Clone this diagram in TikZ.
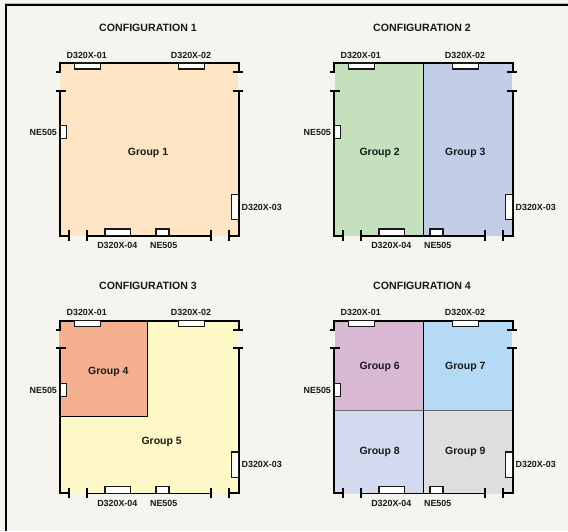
\documentclass[tikz,border=0pt]{standalone}
\usepackage{fontspec}
\setmainfont{Liberation Sans}
\definecolor{bgc}{HTML}{F5F4EF}
\definecolor{gA}{HTML}{FFE5C4}
\definecolor{gB}{HTML}{C5E0BC}
\definecolor{gC}{HTML}{C2CEE8}
\definecolor{gD}{HTML}{F5B08F}
\definecolor{gE}{HTML}{FFF9C8}
\definecolor{gF}{HTML}{D9B8D4}
\definecolor{gG}{HTML}{B4DAF6}
\definecolor{gH}{HTML}{D3D9EF}
\definecolor{gI}{HTML}{DEDEDE}
\tikzset{
  wall/.style={draw=black,line width=2.1pt,line cap=butt,line join=miter},
  pane/.style={draw=black!90,line width=1.2pt,fill=white},
  divider/.style={draw=black,line width=1.2pt},
  lab/.style={inner sep=0pt,font=\bfseries\fontsize{8.9}{10}\selectfont,text=black!90},
  titlelab/.style={inner sep=0pt,font=\bfseries\fontsize{10.6}{12}\selectfont,text=black!90},
  grouplab/.style={inner sep=0pt,yshift=-1.3pt,font=\bfseries\fontsize{10.5}{12}\selectfont,text=black!90},
}
% #1 = name prefix, #2 = configuration number
\newcommand{\planshell}[2]{%
  \draw[wall] (55.7,72.3) -- (60.3,72.3) -- (60.3,63) -- (238.7,63) -- (238.7,72.3);
  \draw[wall] (233.3,72.3) -- (243.3,72.3);
  \draw[wall] (55.7,90.7) -- (66,90.7);
  \draw[wall] (233.3,90.7) -- (243.3,90.7);
  \draw[wall] (60.3,90.7) -- (60.3,235.7) -- (68.7,235.7);
  \draw[wall] (238.7,90.7) -- (238.7,235.7) -- (229.3,235.7);
  \draw[wall] (68.7,230) -- (68.7,240.7);
  \draw[wall] (229.3,230) -- (229.3,240.7);
  \draw[wall] (86.7,230) -- (86.7,240.7);
  \draw[wall] (211.3,230) -- (211.3,240.7);
  \draw[wall,line width=1.7pt] (86.7,235.7) -- (211.3,235.7);
  \draw[pane] (74.7,63) rectangle (100.7,69);
  \draw[pane] (178.7,63) rectangle (204.7,69);
  \draw[pane] (60.3,125.7) rectangle (66.7,138.7);
  \draw[pane] (231.6,194.3) rectangle (238.7,219.7);
  \draw[pane] (105,229) rectangle (130.3,235.7);
  \draw[pane] (156,229) rectangle (169,235.7);
  \node[titlelab] (#1title) at (148,28.3) {CONFIGURATION #2};
  \node[lab] (#1a) at (86.7,55) {D320X-01};
  \node[lab] (#1b) at (191,55) {D320X-02};
  \node[lab] (#1c) at (261.7,207) {D320X-03};
  \node[lab] (#1d) at (117.3,245.7) {D320X-04};
  \node[lab] (#1e) at (43.3,132.7) {NE505};
  \node[lab] (#1f) at (163.7,245.7) {NE505};
}
\begin{document}
\begin{tikzpicture}[x=1pt,y=-1pt]
\path[use as bounding box,fill=bgc] (0,0) rectangle (568,531);
\draw[black!25,line width=1pt] (5,3.5) -- (568,3.5);
\draw[black,line width=2.2pt] (6,531) -- (6,5) -- (568,5);
% Configuration 1
\begin{scope}
  \fill[gA] (60,63) rectangle (238,236);
  \planshell{one}{1}
  \node[grouplab] (g1) at (148,151.3) {Group 1};
\end{scope}
% Configuration 2
\begin{scope}[shift={(274,0)}]
  \fill[gB] (61,63) rectangle (149.3,236);
  \fill[gC] (149.3,63) rectangle (238,236);
  \draw[divider] (149.3,63) -- (149.3,235.7);
  \planshell{two}{2}
  \node[grouplab] (g2) at (105.7,151.3) {Group 2};
  \node[grouplab] (g3) at (191.3,151.3) {Group 3};
\end{scope}
% Configuration 3
\begin{scope}[shift={(0,257.7)}]
  \fill[gE] (60,63) rectangle (238,236);
  \fill[gD] (59.3,63) rectangle (147.7,158.6);
  \draw[divider] (147.7,63) -- (147.7,158.6) -- (60.3,158.6);
  \planshell{three}{3}
  \node[grouplab] (g4) at (108.3,112.6) {Group 4};
  \node[grouplab] (g5) at (161.7,182.6) {Group 5};
\end{scope}
% Configuration 4
\begin{scope}[shift={(274,257.7)}]
  \fill[gF] (61,63) rectangle (149.3,153);
  \fill[gG] (149.3,63) rectangle (238,153);
  \fill[gH] (61,153) rectangle (149.3,236);
  \fill[gI] (149.3,153) rectangle (238,236);
  \draw[black!60,line width=1.2pt] (61,153) -- (238,153);
  \draw[divider] (149.3,63) -- (149.3,235.7);
  \planshell{four}{4}
  \node[grouplab] (g6) at (105.7,107.6) {Group 6};
  \node[grouplab] (g7) at (191.3,107.6) {Group 7};
  \node[grouplab] (g8) at (105.7,192.6) {Group 8};
  \node[grouplab] (g9) at (191.3,192.6) {Group 9};
\end{scope}
\end{tikzpicture}
\end{document}
